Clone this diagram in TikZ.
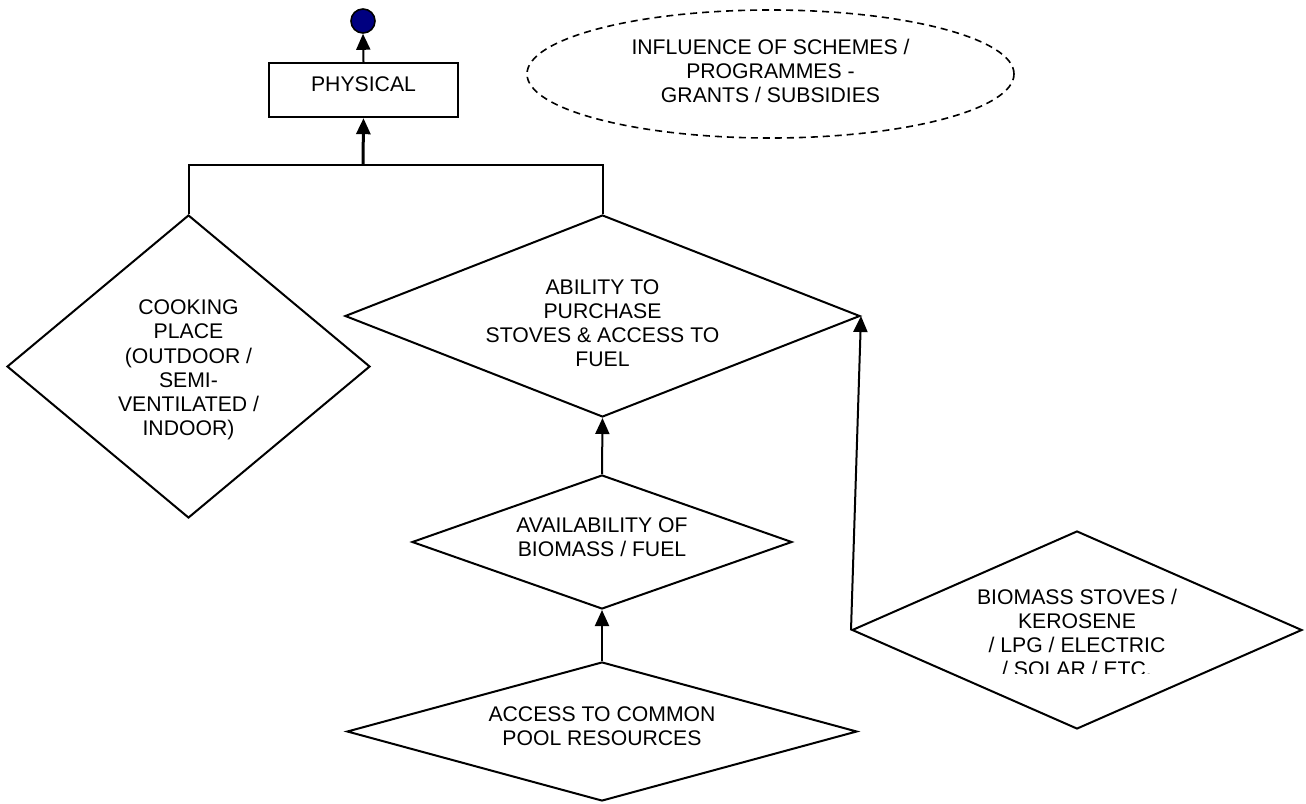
\documentclass[tikz,border=0pt]{standalone}
\usepackage{fontspec}
\setmainfont{Liberation Sans}
\usetikzlibrary{shapes.geometric,arrows.meta}
\definecolor{navy}{RGB}{0,0,128}
\begin{document}
\begin{tikzpicture}[
    x=0.5pt, y=-0.5pt,
    font=\fontsize{10.6}{12.1}\selectfont,
    factor/.style={diamond, draw, line width=1pt, inner sep=0pt},
    caption/.style={align=center, inner sep=0pt},
    block/.style={rectangle, draw, line width=1.2pt, minimum width=94.5pt, minimum height=27pt, text depth=6pt},
    goal/.style={circle, draw, line width=0.8pt, fill=navy, minimum size=12pt, inner sep=0pt},
    scheme/.style={ellipse, draw, dash pattern=on 3.5pt off 2.5pt, line width=0.8pt, inner sep=0pt, minimum width=243.5pt, minimum height=64pt},
    link/.style={line width=1pt, -{Triangle[length=8pt,width=7pt]}}
]
\useasboundingbox (0,0) rectangle (1306,803);

% Top
\node[goal] (dot) at (363,21) {};
\node[block] (physical) at (363.5,90) {PHYSICAL};
\node[scheme, label={[caption, yshift=1.5pt]center:{INFLUENCE OF SCHEMES /\\PROGRAMMES -\\GRANTS / SUBSIDIES}}] (scheme) at (770.5,74) {};

% Factors
\node[factor, minimum width=181.5pt, minimum height=151.5pt,
      label={[caption, yshift=-1.7pt]center:{COOKING\\PLACE\\(OUTDOOR /\\SEMI-\\VENTILATED /\\INDOOR)}}] (cooking) at (188.5,366.5) {};
\node[factor, minimum width=257.5pt, minimum height=101pt,
      label={[caption, yshift=-3.5pt]center:{ABILITY TO\\PURCHASE\\STOVES \& ACCESS TO\\FUEL}}] (ability) at (602.5,316) {};
\node[factor, minimum width=190pt, minimum height=67pt,
      label={[caption, yshift=2.5pt]center:{AVAILABILITY OF\\BIOMASS / FUEL}}] (avail) at (602,542) {};
\node[factor, minimum width=255pt, minimum height=69.5pt,
      label={[caption, yshift=2.75pt]center:{ACCESS TO COMMON\\POOL RESOURCES}}] (access) at (602,731.5) {};
\node[factor, minimum width=225pt, minimum height=99pt] (biomass) at (1077,630) {};
\begin{scope}
\clip (852,560) rectangle (1302,673);
\node[caption] (biomasstext) at (1077,633) {BIOMASS STOVES /\\KEROSENE\\/ LPG / ELECTRIC\\/ SOLAR / ETC.};
\end{scope}

% Connexions
\coordinate (join) at (363,165);
\draw[line width=1pt] (cooking.north) |- (join) -| (ability.north);
\draw[link, line width=1.5pt] (join) -- (physical.south);
\draw[link] (physical.north) -- (dot.south);
\draw[link] (avail.north) -- (ability.south);
\draw[link] (access.north) -- (avail.south);
\draw[link] (biomass.west) -- (ability.east);

\end{tikzpicture}
\end{document}
